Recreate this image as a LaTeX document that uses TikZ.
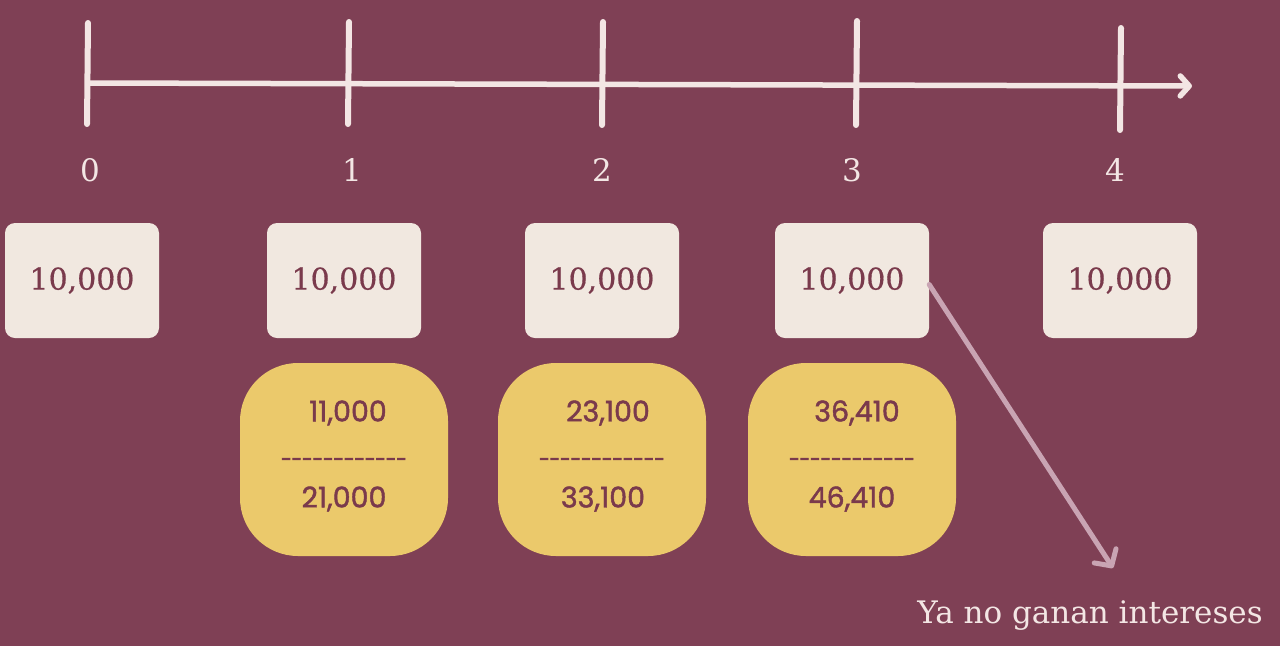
\documentclass[tikz,border=0pt]{standalone}
\usepackage{fontspec}
\setmainfont{DejaVu Serif}
\newfontfamily\popfont[FakeBold=1.5]{Poppins}
\newfontfamily\dashfont[FakeBold=4]{Poppins}
\newfontfamily\serfont[FakeBold=0.6]{DejaVu Serif}
\usetikzlibrary{arrows.meta}
\definecolor{bg}{HTML}{7F4055}
\definecolor{cream}{HTML}{F1E8E0}
\definecolor{lineC}{HTML}{F3E6E4}
\definecolor{ylw}{HTML}{EBC96B}
\definecolor{txtD}{HTML}{7A3A4C}
\definecolor{arrC}{HTML}{C9A4B3}
\tikzset{
  tick/.style={draw=lineC, line width=6pt, line cap=round},
  axis/.style={draw=lineC, line width=5.5pt, line cap=round, -{Straight Barb[length=9pt,width=20pt,line cap=round,line join=round]}},
  ticklbl/.style={text=lineC, font=\fontsize{31}{33}\selectfont},
  cbox/.style={fill=cream, rounded corners=10pt, minimum width=154pt, minimum height=115pt, inner sep=0pt, text=txtD, font=\serfont\fontsize{30}{34}\selectfont},
  ybox/.style={fill=ylw, rounded corners=58pt, minimum width=208pt, minimum height=193pt, inner sep=0pt},
  ytxt/.style={text=txtD, font=\popfont\fontsize{28.5}{32}\selectfont, inner sep=0pt},
  ydash/.style={text=txtD, font=\dashfont\fontsize{19}{22}\selectfont, inner sep=0pt},
  note/.style={draw=arrC, line width=5pt, line cap=round, -{Straight Barb[length=12pt,width=26pt,line cap=round,line join=round]}}
}
\begin{document}
\begin{tikzpicture}[x=1pt,y=-1pt]
\fill[bg] (0,0) rectangle (1280,646);
\useasboundingbox (0,0) rectangle (1280,646);
% timeline
\coordinate (a0) at (88,83);
\coordinate (a1) at (1192,86);
\draw[axis] (a0) -- (a1);
\draw[tick] (88,23) -- (87,124);
\draw[tick] (349,22) -- (348,124);
\draw[tick] (603,22) -- (602,125);
\draw[tick] (857,21) -- (856,125);
\draw[tick] (1121,28) -- (1120,130);
\node[ticklbl] (l0) at (90,170) {0};
\node[ticklbl] (l1) at (352,170) {1};
\node[ticklbl] (l2) at (602,170) {2};
\node[ticklbl] (l3) at (852,170) {3};
\node[ticklbl] (l4) at (1115,170) {4};
% cream boxes
\node[cbox] (c0) at (82,280.5) {10,000};
\node[cbox] (c1) at (344,280.5) {10,000};
\node[cbox] (c2) at (602,280.5) {10,000};
\node[cbox] (c3) at (852,280.5) {10,000};
\node[cbox] (c4) at (1120,280.5) {10,000};
% yellow boxes
\node[ybox] (y1) at (344,459.5) {};
\node[ybox] (y2) at (602,459.5) {};
\node[ybox] (y3) at (852,459.5) {};
\node[ytxt] (y1a) at (348,413) {11,000};
\node[ydash] (y1d) at (344,462) {-{}-{}-{}-{}-{}-{}-{}-{}-{}-{}-{}-};
\node[ytxt] (y1b) at (344,499) {21,000};
\node[ytxt] (y2a) at (608,413) {23,100};
\node[ydash] (y2d) at (602,462) {-{}-{}-{}-{}-{}-{}-{}-{}-{}-{}-{}-};
\node[ytxt] (y2b) at (603,499) {33,100};
\node[ytxt] (y3a) at (857,413) {36,410};
\node[ydash] (y3d) at (852,462) {-{}-{}-{}-{}-{}-{}-{}-{}-{}-{}-{}-};
\node[ytxt] (y3b) at (852,499) {46,410};
% note arrow
\coordinate (ne) at (1113,568);
\draw[note] (c3.east) ++(0,4) -- (ne);
\node[text=lineC, font=\fontsize{31}{34}\selectfont, inner sep=0pt] (lab) at (1090,616) {Ya no ganan intereses};
\end{tikzpicture}
\end{document}
